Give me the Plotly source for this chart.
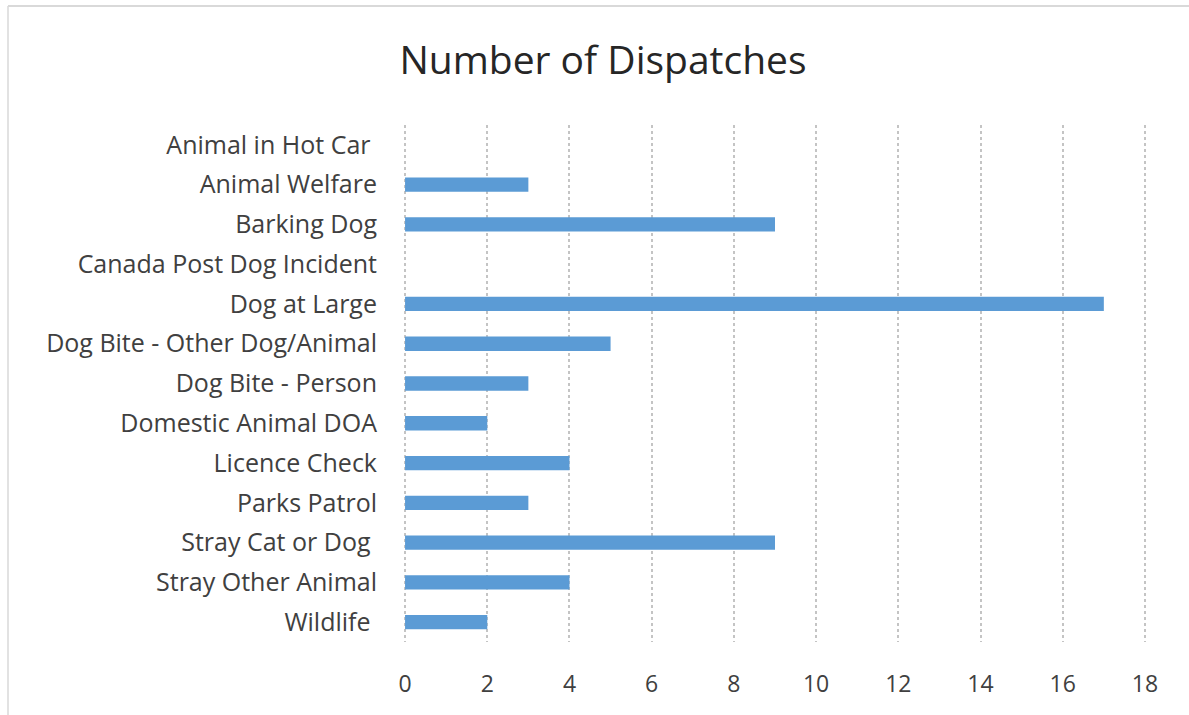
import plotly.graph_objects as go

categories = ["Animal in Hot Car ", "Animal Welfare", "Barking Dog", "Canada Post Dog Incident",
              "Dog at Large", "Dog Bite - Other Dog/Animal", "Dog Bite - Person",
              "Domestic Animal DOA", "Licence Check", "Parks Patrol", "Stray Cat or Dog ",
              "Stray Other Animal", "Wildlife "]
values = [0, 3, 9, 0, 17, 5, 3, 2, 4, 3, 9, 4, 2]
x_ticks = [0, 2, 4, 6, 8, 10, 12, 14, 16, 18]

FONT = "Open Sans"
fig = go.Figure(go.Bar(
    y=categories, x=values, orientation="h",
    marker=dict(color="#5B9BD5", line=dict(width=0)),
    width=0.36,
))

W, H = 1189, 715
l, r, t, b = 403, 42, 125, 73
pw = W - l - r
ph = H - t - b

def px2paper_x(px):
    return (px - l) / pw

def px2paper_y(py):
    return (H - b - py) / ph

fig.update_layout(
    width=W, height=H,
    margin=dict(l=l, r=r, t=t, b=b),
    paper_bgcolor="white", plot_bgcolor="white",
    showlegend=False,
    title=dict(text="Number of Dispatches", x=603 / W, xanchor="center",
               y=1 - 60 / H, yanchor="middle", xref="container", yref="container",
               font=dict(family=FONT, size=39, color="#262626")),
    font=dict(family=FONT, color="#404040"),
    xaxis=dict(range=[-0.05, 18.05], tickvals=x_ticks, showgrid=True, gridcolor="#c4c4c4",
               griddash="dot", gridwidth=1.5, zeroline=False, showline=False,
               tickfont=dict(size=23, color="#404040"), ticklabelstandoff=26),
    yaxis=dict(categoryorder="array", categoryarray=categories, autorange="reversed",
               showgrid=False, zeroline=False, showline=False,
               tickfont=dict(size=25, color="#404040"), ticklabelstandoff=25),
    shapes=[
        dict(type="line", xref="paper", yref="paper",
             x0=px2paper_x(8), x1=px2paper_x(1189), y0=px2paper_y(6), y1=px2paper_y(6),
             line=dict(color="#d9d9d9", width=2)),
        dict(type="line", xref="paper", yref="paper",
             x0=px2paper_x(8), x1=px2paper_x(8), y0=px2paper_y(6), y1=px2paper_y(715),
             line=dict(color="#d9d9d9", width=1.5)),
    ],
)

fig.write_html("out.html")
